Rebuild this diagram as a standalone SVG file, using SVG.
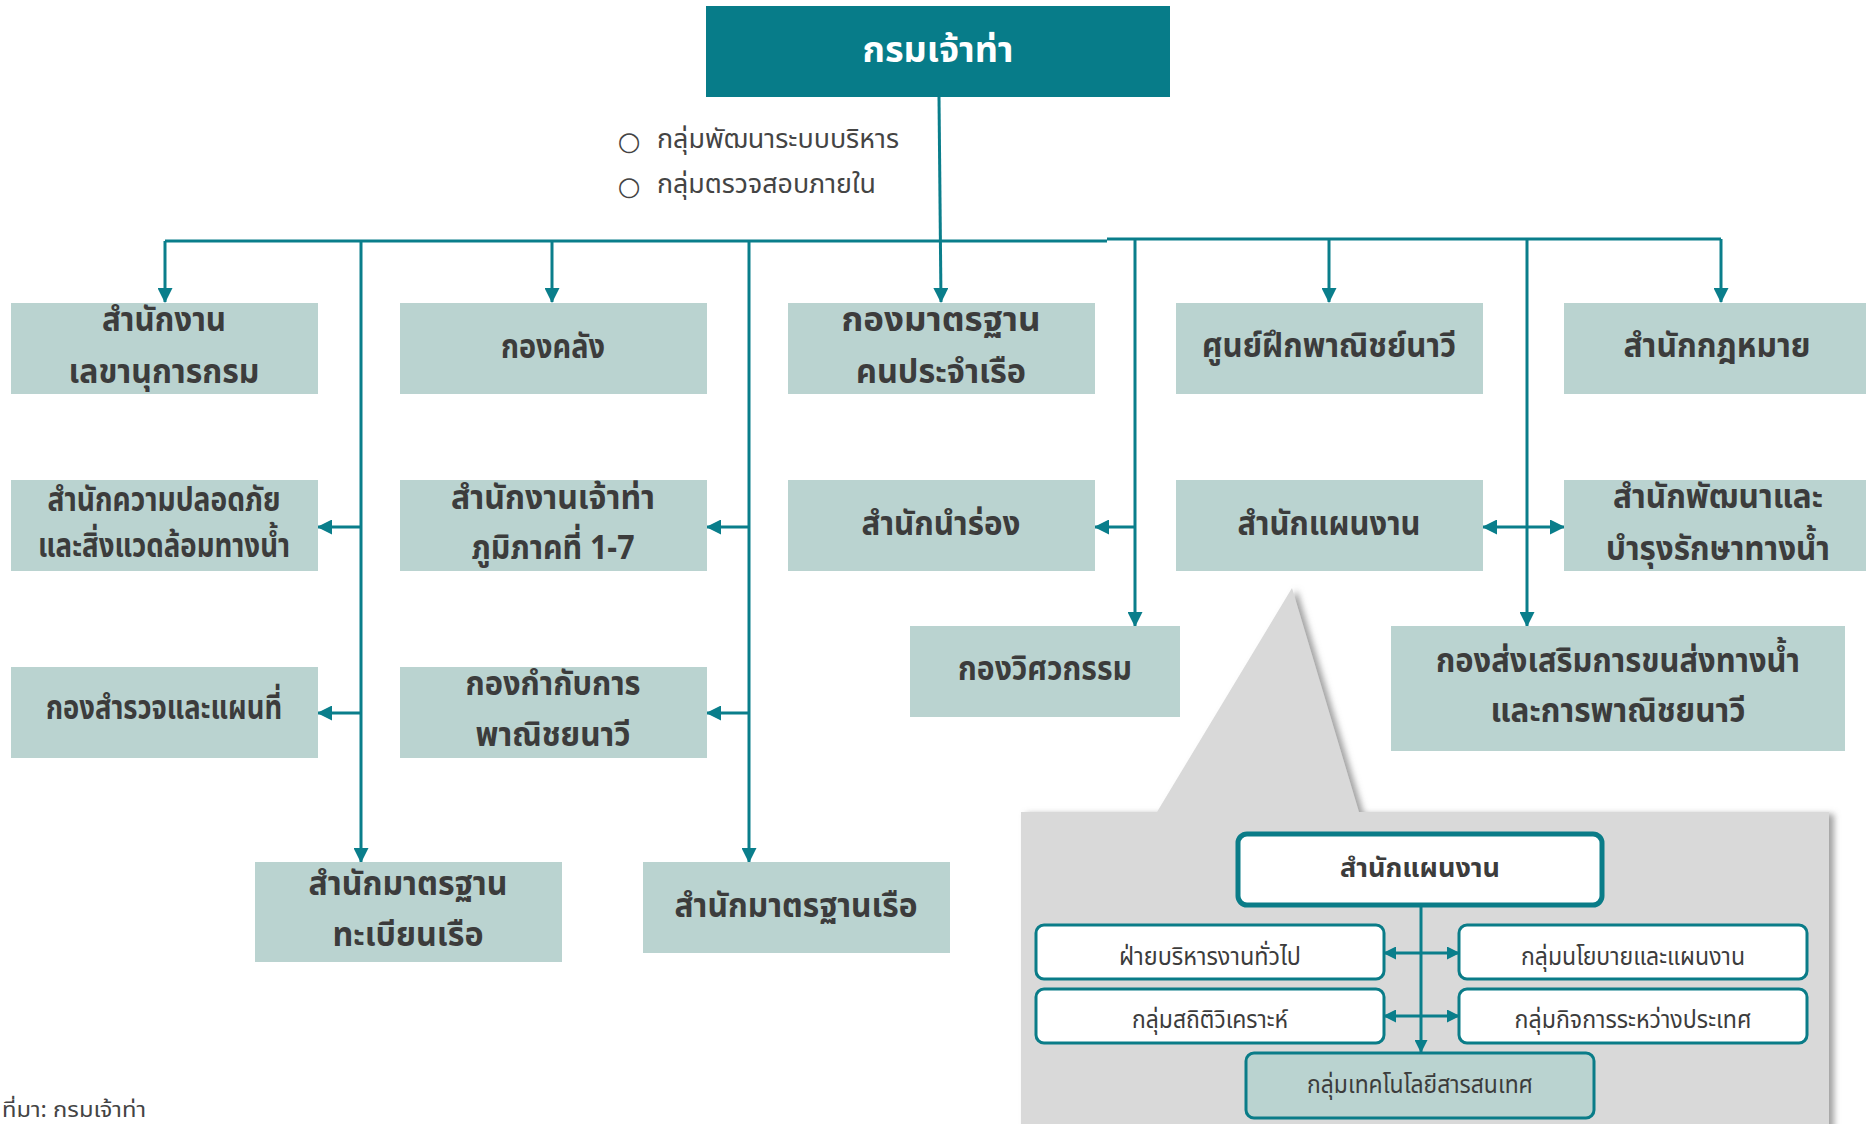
<svg xmlns="http://www.w3.org/2000/svg" width="1866" height="1124" viewBox="0 0 1866 1124">
  <defs>
    <style>
      .box{fill:#bad3d0}
      .t{font-family:"Noto Sans Thai","Noto Sans","DejaVu Sans",sans-serif;font-size:34px;font-weight:bold;fill:#3c3c3c;text-anchor:middle}
      .title{font-size:36px;fill:#ffffff}
      .note{font-family:"Noto Sans Thai","Noto Sans","DejaVu Sans",sans-serif;font-size:26px;fill:#444444}
      .bullet{font-family:"DejaVu Sans",sans-serif;font-size:26px;fill:#444444;text-anchor:middle}
      .sub{fill:#ffffff;stroke:#0a7c88;stroke-width:3}
      .s{font-family:"Noto Sans Thai","Noto Sans","DejaVu Sans",sans-serif;font-size:25px;fill:#3c3c3c;text-anchor:middle}
      .ln{fill:none;stroke:#0a7e8b;stroke-width:3}
      .arr{marker-end:url(#ah)}
      .dbl{marker-start:url(#ah);marker-end:url(#ah)}
      .arrs{marker-end:url(#ahs)}
      .dbls{marker-start:url(#ahs);marker-end:url(#ahs)}
    </style>
    <marker id="ah" markerUnits="userSpaceOnUse" viewBox="0 0 15 15" markerWidth="15" markerHeight="15" refX="14" refY="7.5" orient="auto-start-reverse">
      <path d="M0,0 L15,7.5 L0,15 Z" fill="#0a7e8b"/>
    </marker>
    <marker id="ahs" markerUnits="userSpaceOnUse" viewBox="0 0 13 13" markerWidth="13" markerHeight="13" refX="12" refY="6.5" orient="auto-start-reverse">
      <path d="M0,0 L13,6.5 L0,13 Z" fill="#0a7e8b"/>
    </marker>
    <filter id="shadow" x="-5%" y="-5%" width="115%" height="115%">
      <feDropShadow dx="5" dy="2" stdDeviation="3" flood-color="#7a7a7a" flood-opacity="0.7"/>
    </filter>
  </defs>

  <rect width="1866" height="1124" fill="#ffffff"/>

  <!-- callout panel detailing the planning bureau -->
  <path id="callout" d="M1021,812 H1157 L1292,588 L1359,812 H1829 V1130 H1021 Z" fill="#d9d9d9" filter="url(#shadow)"/>

  <!-- connectors -->
  <g id="connectors" class="ln">
    <path d="M939,97 L941,302" class="arr"/>
    <path d="M165,241 H1107"/>
    <path d="M1107,239 H1721"/>
    <path d="M165,241 V302" class="arr"/>
    <path d="M552,241 V302" class="arr"/>
    <path d="M1329,239 V302" class="arr"/>
    <path d="M1721,239 V302" class="arr"/>
    <path d="M361,241 V862" class="arr"/>
    <path d="M749,241 V862" class="arr"/>
    <path d="M1135,239 V626" class="arr"/>
    <path d="M1527,239 V626" class="arr"/>
    <path d="M361,527 H318" class="arr"/>
    <path d="M361,713 H318" class="arr"/>
    <path d="M749,527 H707" class="arr"/>
    <path d="M749,713 H707" class="arr"/>
    <path d="M1135,527 H1095" class="arr"/>
    <path d="M1483,527 H1564" class="dbl"/>
    <path d="M1421,906 V1052" class="arrs"/>
    <path d="M1384,953 H1459" class="dbls"/>
    <path d="M1384,1016 H1459" class="dbls"/>
  </g>

  <!-- head office -->
  <g id="n-md">
    <rect x="706" y="6" width="464" height="91" fill="#077c89"/>
    <text class="t title" x="938" y="62" textLength="151" lengthAdjust="spacingAndGlyphs">กรมเจ้าท่า</text>
  </g>

  <!-- units attached to the head office -->
  <g id="n-staff">
    <text class="bullet" x="629" y="150">○</text>
    <text class="note" x="657" y="148" textLength="242" lengthAdjust="spacingAndGlyphs">กลุ่มพัฒนาระบบบริหาร</text>
    <text class="bullet" x="629" y="195">○</text>
    <text class="note" x="657" y="193" textLength="219" lengthAdjust="spacingAndGlyphs">กลุ่มตรวจสอบภายใน</text>
  </g>

  <!-- row 1 -->
  <g id="n-secretary">
    <rect class="box" x="11" y="303" width="307" height="91"/>
    <text class="t" x="164" y="331" textLength="124" lengthAdjust="spacingAndGlyphs">สำนักงาน</text>
    <text class="t" x="164" y="383" textLength="191" lengthAdjust="spacingAndGlyphs">เลขานุการกรม</text>
  </g>
  <g id="n-finance">
    <rect class="box" x="400" y="303" width="307" height="91"/>
    <text class="t" x="553" y="358" textLength="104" lengthAdjust="spacingAndGlyphs">กองคลัง</text>
  </g>
  <g id="n-seafarer">
    <rect class="box" x="788" y="303" width="307" height="91"/>
    <text class="t" x="941" y="331" textLength="199" lengthAdjust="spacingAndGlyphs">กองมาตรฐาน</text>
    <text class="t" x="941" y="383" textLength="170" lengthAdjust="spacingAndGlyphs">คนประจำเรือ</text>
  </g>
  <g id="n-training">
    <rect class="box" x="1176" y="303" width="307" height="91"/>
    <text class="t" x="1329" y="357" textLength="254" lengthAdjust="spacingAndGlyphs">ศูนย์ฝึกพาณิชย์นาวี</text>
  </g>
  <g id="n-legal">
    <rect class="box" x="1564" y="303" width="310" height="91"/>
    <text class="t" x="1717" y="357" textLength="187" lengthAdjust="spacingAndGlyphs">สำนักกฎหมาย</text>
  </g>

  <!-- row 2 -->
  <g id="n-safety">
    <rect class="box" x="11" y="480" width="307" height="91"/>
    <text class="t" x="164" y="511" textLength="233" lengthAdjust="spacingAndGlyphs">สำนักความปลอดภัย</text>
    <text class="t" x="164" y="557" textLength="252" lengthAdjust="spacingAndGlyphs">และสิ่งแวดล้อมทางน้ำ</text>
  </g>
  <g id="n-regional">
    <rect class="box" x="400" y="480" width="307" height="91"/>
    <text class="t" x="553" y="509" textLength="204" lengthAdjust="spacingAndGlyphs">สำนักงานเจ้าท่า</text>
    <text class="t" x="553" y="559" textLength="163" lengthAdjust="spacingAndGlyphs">ภูมิภาคที่ 1-7</text>
  </g>
  <g id="n-pilot">
    <rect class="box" x="788" y="480" width="307" height="91"/>
    <text class="t" x="941" y="535" textLength="159" lengthAdjust="spacingAndGlyphs">สำนักนำร่อง</text>
  </g>
  <g id="n-planning">
    <rect class="box" x="1176" y="480" width="307" height="91"/>
    <text class="t" x="1329" y="535" textLength="183" lengthAdjust="spacingAndGlyphs">สำนักแผนงาน</text>
  </g>
  <g id="n-waterway">
    <rect class="box" x="1564" y="480" width="310" height="91"/>
    <text class="t" x="1718" y="508" textLength="210" lengthAdjust="spacingAndGlyphs">สำนักพัฒนาและ</text>
    <text class="t" x="1718" y="560" textLength="224" lengthAdjust="spacingAndGlyphs">บำรุงรักษาทางน้ำ</text>
  </g>

  <!-- row 3 -->
  <g id="n-survey">
    <rect class="box" x="11" y="667" width="307" height="91"/>
    <text class="t" x="164" y="719" textLength="236" lengthAdjust="spacingAndGlyphs">กองสำรวจและแผนที่</text>
  </g>
  <g id="n-regulation">
    <rect class="box" x="400" y="667" width="307" height="91"/>
    <text class="t" x="553" y="695" textLength="175" lengthAdjust="spacingAndGlyphs">กองกำกับการ</text>
    <text class="t" x="553" y="746" textLength="155" lengthAdjust="spacingAndGlyphs">พาณิชยนาวี</text>
  </g>
  <g id="n-engineering">
    <rect class="box" x="910" y="626" width="270" height="91"/>
    <text class="t" x="1045" y="680" textLength="174" lengthAdjust="spacingAndGlyphs">กองวิศวกรรม</text>
  </g>
  <g id="n-promotion">
    <rect class="box" x="1391" y="626" width="454" height="125"/>
    <text class="t" x="1618" y="672" textLength="364" lengthAdjust="spacingAndGlyphs">กองส่งเสริมการขนส่งทางน้ำ</text>
    <text class="t" x="1618" y="722" textLength="255" lengthAdjust="spacingAndGlyphs">และการพาณิชยนาวี</text>
  </g>

  <!-- row 4 -->
  <g id="n-registry">
    <rect class="box" x="255" y="862" width="307" height="100"/>
    <text class="t" x="408" y="895" textLength="199" lengthAdjust="spacingAndGlyphs">สำนักมาตรฐาน</text>
    <text class="t" x="408" y="946" textLength="151" lengthAdjust="spacingAndGlyphs">ทะเบียนเรือ</text>
  </g>
  <g id="n-ship">
    <rect class="box" x="643" y="862" width="307" height="91"/>
    <text class="t" x="796" y="917" textLength="243" lengthAdjust="spacingAndGlyphs">สำนักมาตรฐานเรือ</text>
  </g>

  <!-- planning bureau breakdown -->
  <g id="p-head">
    <rect x="1238" y="834" width="364" height="71" rx="9" fill="#ffffff" stroke="#0a7c88" stroke-width="5"/>
    <text class="s" x="1420" y="877" textLength="160" lengthAdjust="spacingAndGlyphs" style="font-weight:bold;font-size:27px">สำนักแผนงาน</text>
  </g>
  <g id="p-admin">
    <rect class="sub" x="1036" y="925" width="348" height="54" rx="8"/>
    <text class="s" x="1210" y="965" textLength="182" lengthAdjust="spacingAndGlyphs">ฝ่ายบริหารงานทั่วไป</text>
  </g>
  <g id="p-policy">
    <rect class="sub" x="1459" y="925" width="348" height="54" rx="8"/>
    <text class="s" x="1633" y="965" textLength="224" lengthAdjust="spacingAndGlyphs">กลุ่มนโยบายและแผนงาน</text>
  </g>
  <g id="p-stats">
    <rect class="sub" x="1036" y="989" width="348" height="54" rx="8"/>
    <text class="s" x="1210" y="1028" textLength="156" lengthAdjust="spacingAndGlyphs">กลุ่มสถิติวิเคราะห์</text>
  </g>
  <g id="p-intl">
    <rect class="sub" x="1459" y="989" width="348" height="54" rx="8"/>
    <text class="s" x="1633" y="1028" textLength="237" lengthAdjust="spacingAndGlyphs">กลุ่มกิจการระหว่างประเทศ</text>
  </g>
  <g id="p-it">
    <rect x="1246" y="1053" width="348" height="65" rx="8" fill="#bad3d0" stroke="#0a7c88" stroke-width="3"/>
    <text class="s" x="1420" y="1093" textLength="226" lengthAdjust="spacingAndGlyphs">กลุ่มเทคโนโลยีสารสนเทศ</text>
  </g>

  <!-- source line -->
  <text class="note" x="2" y="1117" style="font-size:21px" textLength="144" lengthAdjust="spacingAndGlyphs">ที่มา: กรมเจ้าท่า</text>
</svg>
